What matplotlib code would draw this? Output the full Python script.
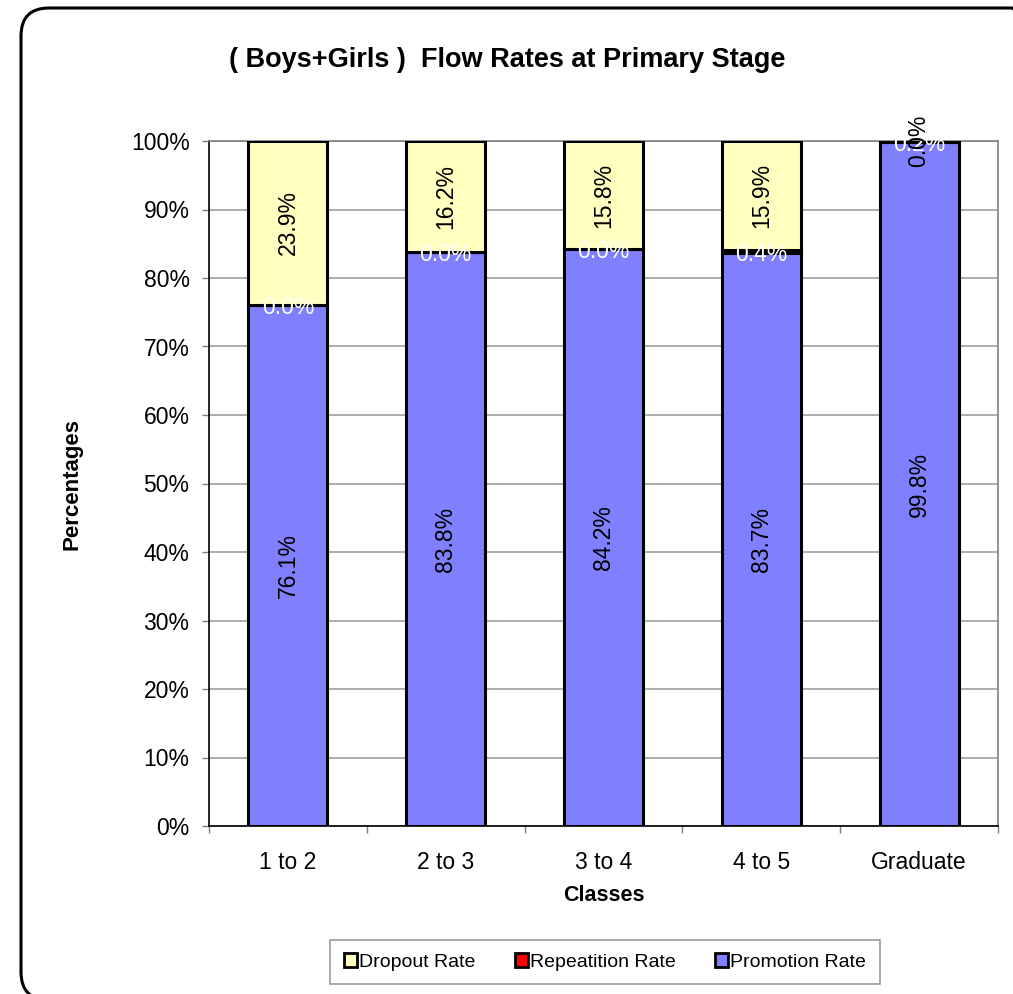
import matplotlib
matplotlib.use("Agg")
import matplotlib.pyplot as plt
from matplotlib.patches import FancyBboxPatch, Patch
import numpy as np

plt.rcParams['font.family'] = ['Liberation Sans', 'DejaVu Sans']

categories = ["1 to 2", "2 to 3", "3 to 4", "4 to 5", "Graduate"]
promotion = [76.1, 83.8, 84.2, 83.7, 99.8]
repetition = [0.0, 0.0, 0.0, 0.4, 0.2]
dropout = [23.9, 16.2, 15.8, 15.9, 0.0]

c_prom = "#8080FF"
c_rep = "#FF0000"
c_drop = "#FFFFC0"

fig = plt.figure(figsize=(10.13, 9.94), dpi=100)
W, H = 1013, 994

# outer rounded frame (inches, bottom-left origin)
x0, y0top, x1, y1bot = 21, 8, 1040, 1000
frame = FancyBboxPatch((x0 / 100, (H - y1bot) / 100), (x1 - x0) / 100, (y1bot - y0top) / 100,
                       boxstyle="round,pad=0,rounding_size=0.28",
                       transform=fig.dpi_scale_trans, fill=False, edgecolor="black",
                       linewidth=2.2)
fig.patches.append(frame)

ax = fig.add_axes([209 / W, 1 - 826 / H, (998 - 209) / W, (826 - 141) / H])
x = np.arange(len(categories))
bw = 0.5
ec = "black"
lw = 2.2
ax.bar(x, promotion, bw, color=c_prom, edgecolor=ec, linewidth=lw, zorder=3)
bottom2 = np.array(promotion)
ax.bar(x, repetition, bw, bottom=bottom2, color=c_rep, edgecolor=ec, linewidth=lw, zorder=3)
bottom3 = bottom2 + np.array(repetition)
ax.bar(x, dropout, bw, bottom=bottom3, color=c_drop, edgecolor=ec, linewidth=lw, zorder=3)

fs = 16.5
for i in range(len(categories)):
    ax.text(x[i], promotion[i] / 2, f"{promotion[i]:.1f}%", rotation=90,
            ha="center", va="center", fontsize=fs, color="black", zorder=5)
    ax.text(x[i], bottom2[i] + repetition[i] / 2 - 0.4, f"{repetition[i]:.1f}%",
            ha="center", va="center", fontsize=fs, color="white", zorder=5)
    ax.text(x[i], bottom3[i] + dropout[i] / 2, f"{dropout[i]:.1f}%", rotation=90,
            ha="center", va="center", fontsize=fs, color="black", zorder=5)

ax.set_xlim(-0.5, len(categories) - 0.5)
ax.set_ylim(0, 100)
ax.set_yticks(np.arange(0, 101, 10))
ax.set_yticklabels([f"{v}%" for v in range(0, 101, 10)], fontsize=fs)
ax.set_xticks(x)
ax.set_xticklabels(categories, fontsize=fs)
ax.tick_params(axis="x", length=0, pad=18)
ax.set_xticks(np.arange(-0.5, len(categories), 1), minor=True)
ax.tick_params(axis="x", which="minor", length=5, color="#808080", width=1, direction="out")
ax.tick_params(axis="y", length=5, width=1, color="#808080", direction="out", pad=9)
ax.grid(axis="y", color="#A0A0A0", linewidth=1.2, zorder=0)
for s in ["top", "right"]:
    ax.spines[s].set_color("#808080")
    ax.spines[s].set_linewidth(1.2)
for s in ["left", "bottom"]:
    ax.spines[s].set_color("black")
    ax.spines[s].set_linewidth(1.2)

ax.set_xlabel("Classes", fontsize=15.5, fontweight="bold", labelpad=8)
ax.set_ylabel("Percentages", fontsize=16, fontweight="bold", labelpad=35)

fig.text(507 / W, 1 - 60 / H, "( Boys+Girls )  Flow Rates at Primary Stage",
         ha="center", va="center", fontsize=19.5, fontweight="bold")

handles = [Patch(facecolor=c_drop, edgecolor="black", linewidth=2.0),
           Patch(facecolor=c_rep, edgecolor="black", linewidth=2.0),
           Patch(facecolor=c_prom, edgecolor="black", linewidth=2.0)]
leg = fig.legend(handles, ["Dropout Rate", "Repeatition Rate", "Promotion Rate"],
                 loc="center", bbox_to_anchor=(605 / W, 1 - 962 / H), ncol=3,
                 fontsize=14, frameon=True, fancybox=False, handlelength=0.7,
                 handleheight=0.7, handletextpad=0.1, columnspacing=2.0,
                 borderpad=0.7)
leg.get_frame().set_edgecolor("#808080")
leg.get_frame().set_linewidth(1.2)

fig.savefig("out.png", dpi=100)
